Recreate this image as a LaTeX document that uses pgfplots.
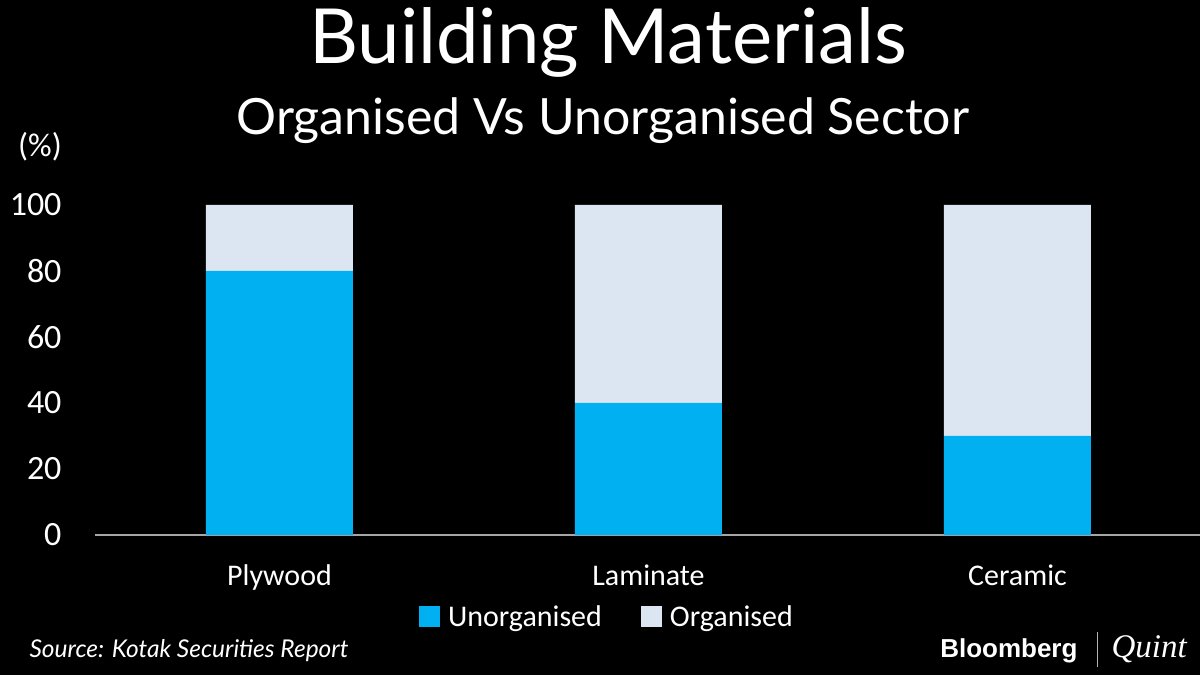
\documentclass[border=0pt]{standalone}
\usepackage{fontspec}
\setmainfont{Carlito}
\newfontfamily\latofont{Lato}
\newfontfamily\boldsans{Liberation Sans}
\newfontfamily\serifit{Liberation Serif}
\usepackage{pgfplots}
\pgfplotsset{compat=1.18}
\definecolor{unorg}{HTML}{00B0F0}
\definecolor{org}{HTML}{DCE6F2}
\definecolor{axisgray}{HTML}{A6A6A6}
\begin{document}
\begin{tikzpicture}[x=1pt,y=1pt]
\useasboundingbox (0,0) rectangle (1200,675);
\fill[black] (0,0) rectangle (1200,675);
\node[white, font=\latofont\fontsize{76}{76}\selectfont, anchor=base] at (608,611) {Building Materials};
\node[white, font=\latofont\fontsize{50}{50}\selectfont, anchor=base] at (603,540) {Organised Vs Unorganised Sector};
\node[white, font=\fontsize{33}{33}\selectfont, anchor=base] at (40,518) {(\%)};
\begin{axis}[
  at={(95pt,140pt)}, anchor=south west,
  scale only axis, width=1107pt, height=330pt,
  ybar stacked, bar width=147pt,
  xmin=-0.5, xmax=2.5, ymin=0, ymax=100,
  xtick=data, xticklabels={Plywood,Laminate,Ceramic},
  ytick={0,20,...,100},
  axis y line*=left, axis x line*=bottom,
  y axis line style={draw=none},
  x axis line style={axisgray, line width=1.5pt, -},
  major tick length=0pt,
  /pgf/number format/assume math mode=true,
  ticklabel style={white, font=\fontsize{34}{34}\selectfont},
  xticklabel style={font=\fontsize{30}{30}\selectfont, yshift=-26pt},
  yticklabel style={anchor=east, xshift=-30pt},
  clip=false,
  legend columns=2,
  legend style={at={(0.4625,-0.2485)}, anchor=center, draw=none, fill=black,
    text=white, font=\fontsize{30}{30}\selectfont,
    /tikz/every even column/.append style={column sep=37pt}},
  legend image code/.code={\fill[#1] (0pt,-10pt) rectangle (21pt,11pt); \path (27pt,0pt);},
]
\addplot[fill=unorg, draw=none] coordinates {(0,80) (1,40) (2,30)};
\addplot[fill=org, draw=none] coordinates {(0,20) (1,60) (2,70)};
\legend{Unorganised,Organised}
\end{axis}
\node[white, font=\latofont\itshape\fontsize{24.5}{24.5}\selectfont, anchor=base west] at (26,17) {Source: Kotak Securities Report};
\node[white, font=\boldsans\bfseries\fontsize{26}{26}\selectfont, anchor=base east] at (1081,17) {Bloomberg};
\draw[white!70!black, line width=1pt] (1097,8) -- (1097,43);
\node[white, font=\serifit\itshape\fontsize{33}{33}\selectfont, anchor=base west] at (1108,17) {Quint};
\end{tikzpicture}
\end{document}
